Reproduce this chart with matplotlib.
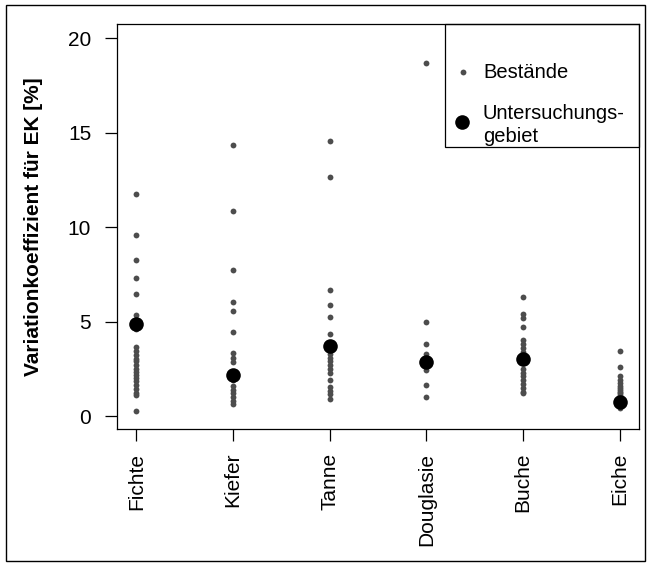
import matplotlib.pyplot as plt
from matplotlib.patches import Rectangle

plt.rcParams['font.family'] = ['Liberation Sans', 'DejaVu Sans']

categories = ['Fichte', 'Kiefer', 'Tanne', 'Douglasie', 'Buche', 'Eiche']

# Variationskoeffizient je Bestand [%]
stands = {
    'Fichte': [11.77, 9.6, 8.27, 7.32, 6.47, 5.34, 5.1, 4.6, 3.65, 3.45, 3.25, 3.05, 2.9,
               2.7, 2.5, 2.35, 2.2, 2.0, 1.85, 1.65, 1.45, 1.25, 1.1, 0.26],
    'Kiefer': [14.37, 10.84, 7.73, 6.03, 5.56, 4.44, 3.35, 3.1, 2.87, 1.9, 1.6, 1.4,
               1.2, 1.0, 0.8, 0.63],
    'Tanne': [14.56, 12.67, 6.67, 5.87, 5.22, 4.37, 3.3, 3.1, 2.9, 2.7, 2.5, 2.26,
              1.9, 1.55, 1.35, 1.15, 0.93],
    'Douglasie': [18.66, 4.99, 3.84, 3.31, 3.0, 2.43, 1.64, 1.02],
    'Buche': [6.31, 5.43, 5.2, 4.73, 4.02, 3.8, 3.6, 3.4, 2.52, 2.3, 2.1, 1.9, 1.7,
              1.5, 1.3, 1.2],
    'Eiche': [3.45, 2.6, 2.1, 1.9, 1.75, 1.6, 1.5, 1.4, 1.3, 1.2, 1.1, 1.0, 0.9, 0.8,
              0.65, 0.55, 0.45],
}
# Untersuchungsgebiet
area = [4.87, 2.17, 3.72, 2.84, 3.05, 0.75]

small = dict(color='#4d4d4d', markersize=4.2, markeredgewidth=0)
big = dict(color='black', markersize=10.5, markeredgewidth=0)

fig = plt.figure(figsize=(6.51, 5.66), dpi=100)
ax = fig.add_axes([117 / 651, 1 - 429 / 566, (639 - 117) / 651, (429 - 24) / 566])

for i, cat in enumerate(categories):
    vals = stands[cat]
    ax.plot([i + 1] * len(vals), vals, 'o', **small)
ax.plot(range(1, len(categories) + 1), area, 'o', **big)

ax.set_xlim(0.8, 6.2)
ax.set_ylim(-0.68, 20.75)
ax.set_yticks([0, 5, 10, 15, 20])
ax.set_xticks(range(1, len(categories) + 1))
ax.set_xticklabels(categories, rotation=90)
ax.tick_params(axis='both', length=8.6, width=0.9, labelsize=15)
ax.tick_params(axis='y', pad=10)
ax.tick_params(axis='x', pad=8.5)
for s in ax.spines.values():
    s.set_linewidth(0.9)
ax.set_ylabel('Variationkoeffizient für EK [%]', fontsize=15, fontweight='bold',
              labelpad=18)

# legend, drawn by hand like the R version
ax.add_patch(Rectangle((0.628, 0.696), 0.372, 0.304, transform=ax.transAxes,
                       fill=False, edgecolor='black', linewidth=0.9, clip_on=False,
                       zorder=5))
ax.plot([0.663], [0.881], 'o', transform=ax.transAxes, clip_on=False, **small)
ax.plot([0.661], [0.758], 'o', transform=ax.transAxes, clip_on=False, **big)
ax.text(0.701, 0.881, 'Bestände', transform=ax.transAxes, fontsize=14.5,
        va='center', ha='left')
ax.text(0.701, 0.751, 'Untersuchungs-\ngebiet', transform=ax.transAxes,
        fontsize=14.5, va='center', ha='left', linespacing=1.3)

fig.patches.append(Rectangle((6 / 651, 5 / 566), 639 / 651, 556 / 566,
                             transform=fig.transFigure, fill=False,
                             edgecolor='black', linewidth=1))

fig.savefig('out.png', dpi=100)
